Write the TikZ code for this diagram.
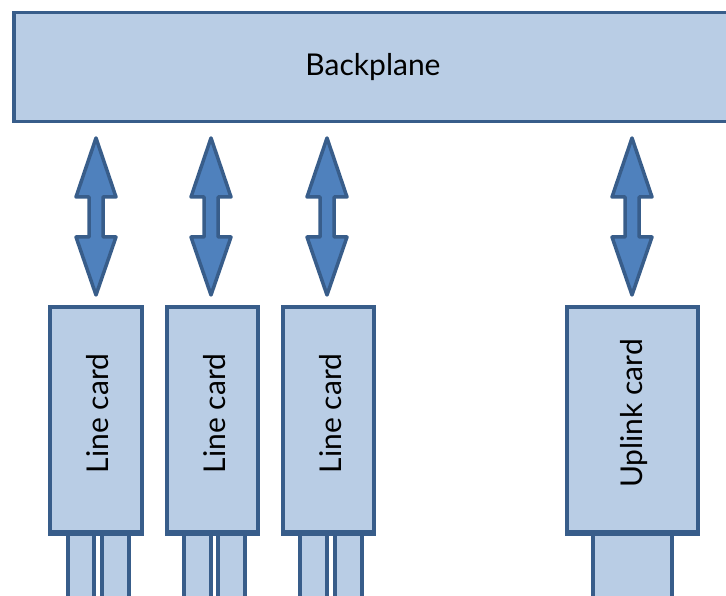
\documentclass[tikz,border=0pt]{standalone}
\usepackage{fontspec}
\setmainfont{Lato}
\usetikzlibrary{calc}
\definecolor{boxfill}{HTML}{B9CDE5}
\definecolor{boxline}{HTML}{385D8A}
\definecolor{arrowfill}{HTML}{4F81BD}
\tikzset{
  blk/.style={draw=boxline, fill=boxfill, line width=3.5pt, inner sep=0pt},
  cardbox/.style={blk, minimum width=#1, minimum height=225pt},
  portbox/.style={blk, anchor=north, minimum width=#1, minimum height=66pt},
  linkarrow/.style={draw=boxline, fill=arrowfill, line width=3.5pt, line join=round},
  lbl/.style={font=\fontsize{30}{34}\selectfont},
  cardlbl/.style={lbl, rotate=90}
}
\begin{document}
\begin{tikzpicture}[x=1pt,y=-1pt]
\useasboundingbox (0,0) rectangle (726,596);
\clip (0,0) rectangle (726,596);

\node[blk, minimum width=740pt, minimum height=109pt, anchor=north west] (bp) at (12,11) {};
\node[lbl] (bptext) at (373,67) {Backplane};

\node[cardbox=92pt] (c1) at (96,419.5) {};
\node[cardbox=91pt] (c2) at (212.5,419.5) {};
\node[cardbox=91pt] (c3) at (328.5,419.5) {};
\node[cardbox=131pt] (up) at (632.5,419.5) {};

\node[cardlbl] (t1) at ($(c1)+(2,-6)$) {Line card};
\node[cardlbl] (t2) at ($(c2)+(2,-6)$) {Line card};
\node[cardlbl] (t3) at ($(c3)+(2,-6)$) {Line card};
\node[cardlbl] (tu) at ($(up)+(2,-6)$) {Uplink card};

% ports below the cards
\node[portbox=26pt] (p1a) at (81,532) {};
\node[portbox=27pt] (p1b) at (115.5,532) {};
\node[portbox=27pt] (p2a) at (197.5,532) {};
\node[portbox=27pt] (p2b) at (231.5,532) {};
\node[portbox=27pt] (p3a) at (313.5,532) {};
\node[portbox=27pt] (p3b) at (348.5,532) {};
\node[portbox=79pt] (pu) at (632.5,532) {};

% redraw card bottoms over the ports
\foreach \c in {c1,c2,c3,up}
  \draw[boxline, line width=3.5pt, line cap=square] (\c.south west) -- (\c.south east);

% double-headed links between the backplane and the cards
\coordinate (a1) at (96,156);
\coordinate (a2) at (211,156);
\coordinate (a3) at (327,156);
\coordinate (a4) at (632,156);
\foreach \a in {a1,a2,a3,a4} {
  \draw[linkarrow] ($(\a)+(0,-18)$) -- ++(20,59) -- ++(-13,0) -- ++(0,40)
    -- ++(13,0) -- ++(-20,58) -- ++(-20,-58) -- ++(13,0) -- ++(0,-40)
    -- ++(-13,0) -- cycle;
}
\end{tikzpicture}
\end{document}
